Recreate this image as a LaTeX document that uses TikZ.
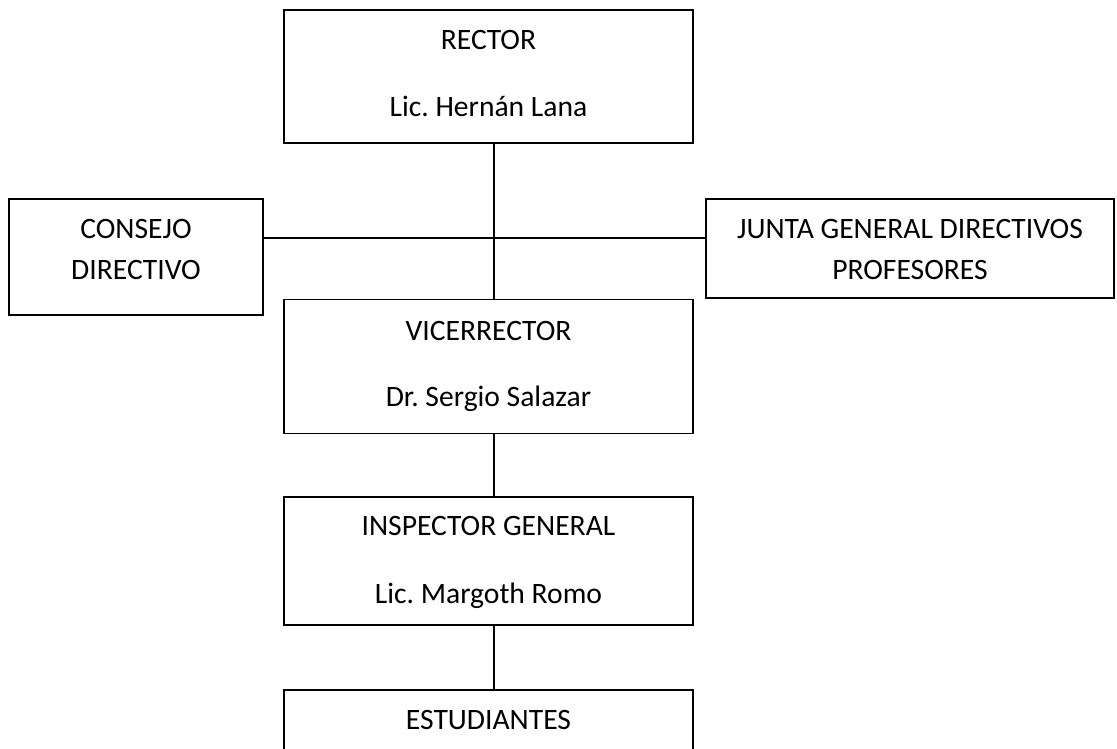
\documentclass[tikz,border=0pt]{standalone}
\usepackage{fontspec}
\setmainfont{Carlito}
\frenchspacing
\begin{document}
\begin{tikzpicture}[x=1pt,y=1pt,
  box/.style={draw, line width=1.9pt, inner sep=0pt, rectangle},
  lbl/.style={inner sep=0pt, anchor=base, font=\fontsize{29.6}{35}\selectfont},
  conn/.style={line width=1.9pt}]
\useasboundingbox (0,0) rectangle (1117,-749);
% boxes
\node[box, minimum width=409pt, minimum height=133pt] (rector) at (488.5,-76.5) {};
\node[box, minimum width=254pt, minimum height=116pt] (consejo) at (136,-257) {};
\node[box, minimum width=408pt, minimum height=99pt] (junta) at (910,-248.5) {};
\node[box, minimum width=409pt, minimum height=134pt] (vice) at (488.5,-366.5) {};
\node[box, minimum width=409pt, minimum height=128pt] (insp) at (488.5,-561) {};
\node[box, minimum width=409pt, minimum height=90pt] (estud) at (488.5,-735) {};
% labels
\node[lbl] (t1) at (488.5,-50) {RECTOR};
\node[lbl] (t2) at (488.5,-117) {Lic.\ Hernán Lana};
\node[lbl] (t3) at (136,-238) {CONSEJO};
\node[lbl] (t4) at (136,-279) {DIRECTIVO};
\node[lbl] (t5) at (910,-238) {JUNTA GENERAL DIRECTIVOS};
\node[lbl] (t6) at (910,-279) {PROFESORES};
\node[lbl] (t7) at (488.5,-340) {VICERRECTOR};
\node[lbl] (t8) at (488.5,-406) {Dr.\ Sergio Salazar};
\node[lbl] (t9) at (488.5,-535) {INSPECTOR GENERAL};
\node[lbl] (t10) at (488.5,-603) {Lic.\ Margoth Romo};
\node[lbl] (t11) at (488.5,-729) {ESTUDIANTES};
% connectors
\coordinate (h) at (494,-238);
\draw[conn] ([xshift=5.5pt]rector.south) -- ([xshift=5.5pt]vice.north);
\draw[conn] (consejo.east |- h) -- (junta.west |- h);
\draw[conn] ([xshift=5.5pt]vice.south) -- ([xshift=5.5pt]insp.north);
\draw[conn] ([xshift=5.5pt]insp.south) -- ([xshift=5.5pt]estud.north);
\end{tikzpicture}
\end{document}
